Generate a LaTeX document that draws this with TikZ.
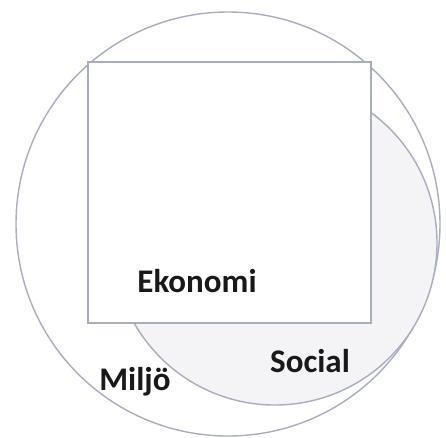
\documentclass[tikz,border=0pt]{standalone}
\usepackage{fontspec}
\setmainfont{Carlito}
\usepackage{tikz}
\usetikzlibrary{positioning}

\definecolor{rim}{RGB}{168,174,192}
\definecolor{shade}{RGB}{244,244,246}

\begin{document}
\begin{tikzpicture}[x=1pt, y=-1pt, line width=1.4pt,
    ring/.style={circle, draw=rim, inner sep=0pt},
    box/.style={rectangle, draw=rim, fill=white, inner sep=0pt},
    word/.style={draw=none, fill=none, text=black!90, font=\bfseries\fontsize{33}{40}\selectfont}]
    \useasboundingbox (0,0) rectangle (446,437);

    \node [ring, fill=white, minimum size=424pt] (miljo) at (228,224) {};
    \node [ring, fill=shade, minimum size=324pt] (social) at (275,243) {};
    \node [box, minimum width=283pt, minimum height=261pt] (ekonomi) at (229.5,192.5) {};

    \node [word] (ekonomitext) at (197,281) {Ekonomi};
    \node [word] (socialtext) at (310,361) {Social};
    \node [word] (miljotext) at (135,382) {Miljö};
\end{tikzpicture}
\end{document}
